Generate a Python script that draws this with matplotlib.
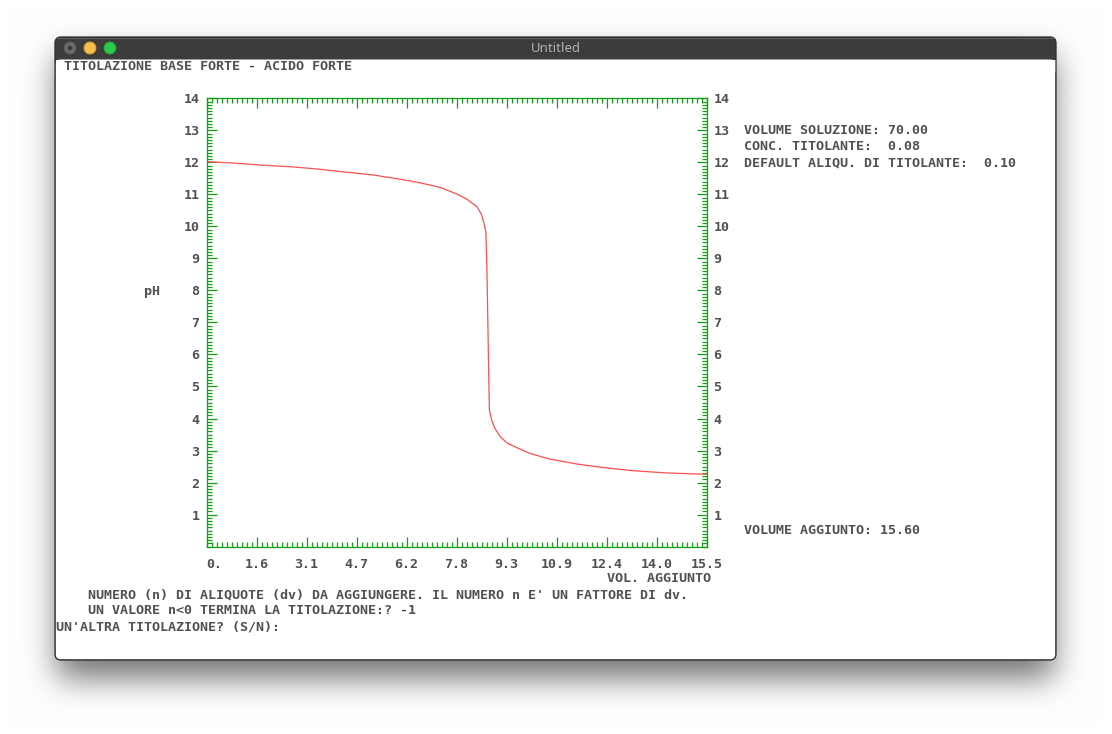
import numpy as np
import matplotlib
matplotlib.use("Agg")
import matplotlib.pyplot as plt
from matplotlib.patches import FancyBboxPatch, Rectangle, Circle
from matplotlib.ticker import MultipleLocator

W, H = 1112, 734

# curve (volume added [ml], pH)
vol_added = [0.0, 0.82, 1.75, 2.65, 3.46, 4.36, 5.13, 5.84, 6.53, 7.24, 7.76,
             8.07, 8.38, 8.53, 8.60, 8.66, 8.69, 8.72, 8.75, 8.77, 8.84, 8.94,
             9.10, 9.31, 9.62, 10.03, 10.65, 11.48, 12.20, 13.22, 14.27, 15.48]
ph = [12.02, 11.98, 11.91, 11.86, 11.79, 11.69, 11.61, 11.50, 11.38, 11.22, 11.01,
      10.85, 10.62, 10.36, 10.10, 9.83, 8.86, 7.08, 5.27, 4.27, 3.95, 3.69,
      3.44, 3.24, 3.09, 2.91, 2.73, 2.58, 2.48, 2.37, 2.30, 2.26]

x_ticks = [0, 1.55, 3.1, 4.65, 6.2, 7.75, 9.3, 10.85, 12.4, 13.95, 15.5]
x_ticklabels = ["0.", "1.6", "3.1", "4.7", "6.2", "7.8", "9.3", "10.9", "12.4", "14.0", "15.5"]
y_ticks = list(range(1, 15))

info_lines = ["VOLUME SOLUZIONE: 70.00",
              "CONC. TITOLANTE:  0.08",
              "DEFAULT ALIQU. DI TITOLANTE:  0.10"]
prompt_lines = ["    NUMERO (n) DI ALIQUOTE (dv) DA AGGIUNGERE. IL NUMERO n E' UN FATTORE DI dv.",
                "    UN VALORE n<0 TERMINA LA TITOLAZIONE:? -1",
                "UN'ALTRA TITOLAZIONE? (S/N):"]

GREEN = "#12a012"
RED = "#ff4f4f"
TXT = "#505050"
MONO = dict(family="DejaVu Sans Mono", fontsize=9.6, color=TXT, weight="bold")

fig = plt.figure(figsize=(W / 100, H / 100), dpi=100)

# background with window shadow
def blur(a, sigma, axis):
    r = int(3 * sigma)
    k = np.exp(-0.5 * (np.arange(-r, r + 1) / sigma) ** 2)
    k /= k.sum()
    return np.apply_along_axis(lambda m: np.convolve(m, k, mode="same"), axis, a)

mask = np.zeros((H, W))
mask[37 + 18:660 + 18, 55 + 2:1056 - 2] = 1.0
mask = blur(blur(mask, 16, 0), 16, 1)
shade = 1 - 0.55 * mask
img = np.dstack([shade, shade, shade])

bg = fig.add_axes([0, 0, 1, 1])
bg.imshow(img, extent=(0, W, H, 0), interpolation="bilinear")
bg.set_xlim(0, W)
bg.set_ylim(H, 0)
bg.axis("off")

# window frame
bg.add_patch(FancyBboxPatch((55, 37), 1001, 623, boxstyle="round,pad=0,rounding_size=6",
                            fc="#3d3b3b", ec="none", zorder=2))
bg.add_patch(FancyBboxPatch((55.5, 59.5), 1000, 600, boxstyle="round,pad=0,rounding_size=5",
                            fc="white", ec="none", zorder=3))
bg.add_patch(Rectangle((55.5, 59.5), 1000, 12, fc="white", ec="none", zorder=3))
bg.add_patch(FancyBboxPatch((55, 37), 1001, 623, boxstyle="round,pad=0,rounding_size=6",
                            fc="none", ec="#2c2b2b", lw=0.9, zorder=4))
bg.plot([57, 1054], [38, 38], color="#5e5c5c", lw=0.8, zorder=4)

bg.add_patch(Circle((70, 48), 6, fc="#6c6b6b", ec="#5a5959", lw=0.6, zorder=5))
bg.add_patch(Circle((70, 48), 2.3, fc="#3e3d3d", ec="none", zorder=6))
bg.add_patch(Circle((90, 48), 6, fc="#f6bd4a", ec="#dea33a", lw=0.6, zorder=5))
bg.add_patch(Circle((110, 48), 6, fc="#2dc94a", ec="#22a83a", lw=0.6, zorder=5))
bg.text(556, 49, "Untitled", ha="center", va="center", color="#b2b0b0",
        fontsize=9.5, family="Noto Sans", zorder=6)

# terminal text
bg.text(64, 67, "TITOLAZIONE BASE FORTE - ACIDO FORTE", ha="left", va="center", zorder=6, **MONO)
for i, s in enumerate(info_lines):
    bg.text(744, 131 + 16 * i, s, ha="left", va="center", zorder=6, **MONO)
bg.text(744, 531, "VOLUME AGGIUNTO: 15.60", ha="left", va="center", zorder=6, **MONO)
bg.text(144, 292, "pH", ha="left", va="center", zorder=6, **MONO)
bg.text(607, 579, "VOL. AGGIUNTO", ha="left", va="center", zorder=6, **MONO)
for i, s in enumerate(prompt_lines):
    bg.text(56, 595 + 16 * i, s, ha="left", va="center", zorder=6, **MONO)

# the plot
ax = fig.add_axes([206.5 / W, 1 - 546.6 / H, 500 / W, 448.3 / H])
ax.set_facecolor("white")
ax.plot(vol_added, ph, color=RED, lw=0.9)
ax.set_xlim(0, 15.5)
ax.set_ylim(0, 14)

for sp in ax.spines.values():
    sp.set_color(GREEN)
    sp.set_linewidth(0.9)

ax.set_xticks(x_ticks)
ax.set_xticklabels(x_ticklabels)
ax.set_yticks(y_ticks)
ax.set_yticklabels([str(v) for v in y_ticks])
ax.xaxis.set_minor_locator(MultipleLocator(0.155))
ax.yaxis.set_minor_locator(MultipleLocator(0.1))
ax.tick_params(which="both", direction="in", top=True, right=True, colors=GREEN,
               width=0.9, labelcolor=TXT, labelsize=9.6)
ax.tick_params(which="major", length=7.2)
ax.tick_params(which="minor", length=3.6)
ax.tick_params(axis="x", pad=8)
ax.tick_params(axis="y", pad=5, labelright=True)
for lab in ax.get_xticklabels() + ax.get_yticklabels():
    lab.set_family("DejaVu Sans Mono")
    lab.set_weight("bold")
ax.get_xticklabels()[0].set_horizontalalignment("left")

fig.savefig("out.png", dpi=100)
